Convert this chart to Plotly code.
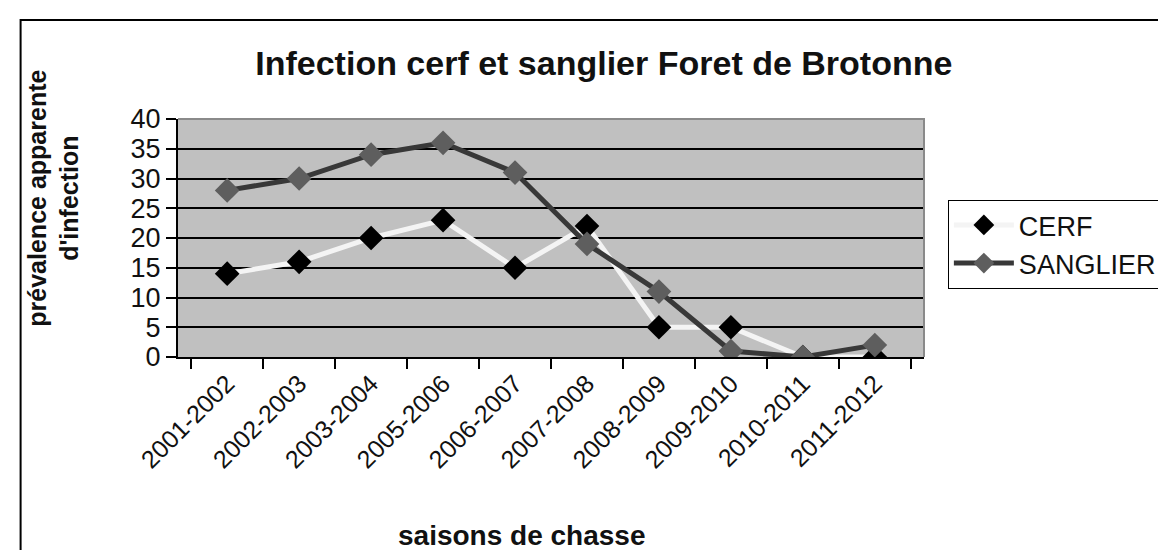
import plotly.graph_objects as go

seasons = ["2001-2002", "2002-2003", "2003-2004", "2005-2006", "2006-2007",
           "2007-2008", "2008-2009", "2009-2010", "2010-2011", "2011-2012"]
cerf = [14, 16, 20, 23, 15, 22, 5, 5, 0, 0]
sanglier = [28, 30, 34, 36, 31, 19, 11, 1, 0, 2]
y_ticks = [0, 5, 10, 15, 20, 25, 30, 35, 40]

FONT = "Liberation Sans, Arial, sans-serif"

fig = go.Figure()
fig.add_trace(go.Scatter(
    x=seasons, y=cerf, name="CERF", mode="lines+markers",
    line=dict(color="#f4f4f4", width=5),
    marker=dict(symbol="diamond", size=19, color="#000000"),
))
fig.add_trace(go.Scatter(
    x=seasons, y=sanglier, name="SANGLIER", mode="lines+markers",
    line=dict(color="#383838", width=5),
    marker=dict(symbol="diamond", size=19, color="#5e5e5e"),
))

fig.update_layout(
    width=1166, height=550,
    margin=dict(l=170, r=247, t=111, b=201),
    paper_bgcolor="white", plot_bgcolor="#c0c0c0",
    font=dict(family=FONT, color="#000000"),
    title=dict(text="Infection cerf et sanglier Foret de Brotonne",
               font=dict(family=FONT, size=34, weight="bold", color="#111111"),
               x=0.511, xref="container", xanchor="center",
               y=0.9, yref="container", yanchor="middle"),
    xaxis=dict(type="category", showgrid=False, showline=True, linecolor="#000000",
               linewidth=2, ticks="outside", tickson="boundaries", ticklen=10,
               tickcolor="#000000", tickwidth=2, tickangle=-45,
               tickfont=dict(family=FONT, size=25, color="#111111")),
    yaxis=dict(range=[0, 40], tickvals=y_ticks, showgrid=True, gridcolor="#000000",
               gridwidth=1.5, showline=True, linecolor="#000000", linewidth=2,
               ticks="outside", ticklen=10, tickcolor="#000000", tickwidth=2,
               zeroline=False,
               tickfont=dict(family=FONT, size=27, color="#111111")),
    legend=dict(x=1.032, y=0.66, xanchor="left", yanchor="top",
                font=dict(family=FONT, size=27, color="#111111"),
                bordercolor="#000000", borderwidth=1, bgcolor="white",
                itemwidth=60),
    showlegend=True,
)

# plot-area border (top and right) and outer chart border
fig.add_shape(type="path", path="M 0,1 L 1,1 L 1,0", xref="paper", yref="paper",
              line=dict(color="#8a8a8a", width=2), layer="above")
fig.add_shape(type="path", path="M -0.211,-0.9 L -0.211,1.416 L 1.4,1.416",
              xref="paper", yref="paper", line=dict(color="#000000", width=2))

fig.add_annotation(text="prévalence apparente<br>d'infection", xref="paper", yref="paper",
                   x=-0.168, y=0.668, textangle=-90, showarrow=False,
                   xanchor="center", yanchor="middle",
                   font=dict(family=FONT, size=25, weight="bold", color="#111111"))
fig.add_annotation(text="saisons de chasse", xref="paper", yref="paper",
                   x=0.4606, y=-0.752, showarrow=False,
                   xanchor="center", yanchor="middle",
                   font=dict(family=FONT, size=28, weight="bold", color="#111111"))

fig.write_html("out.html")
